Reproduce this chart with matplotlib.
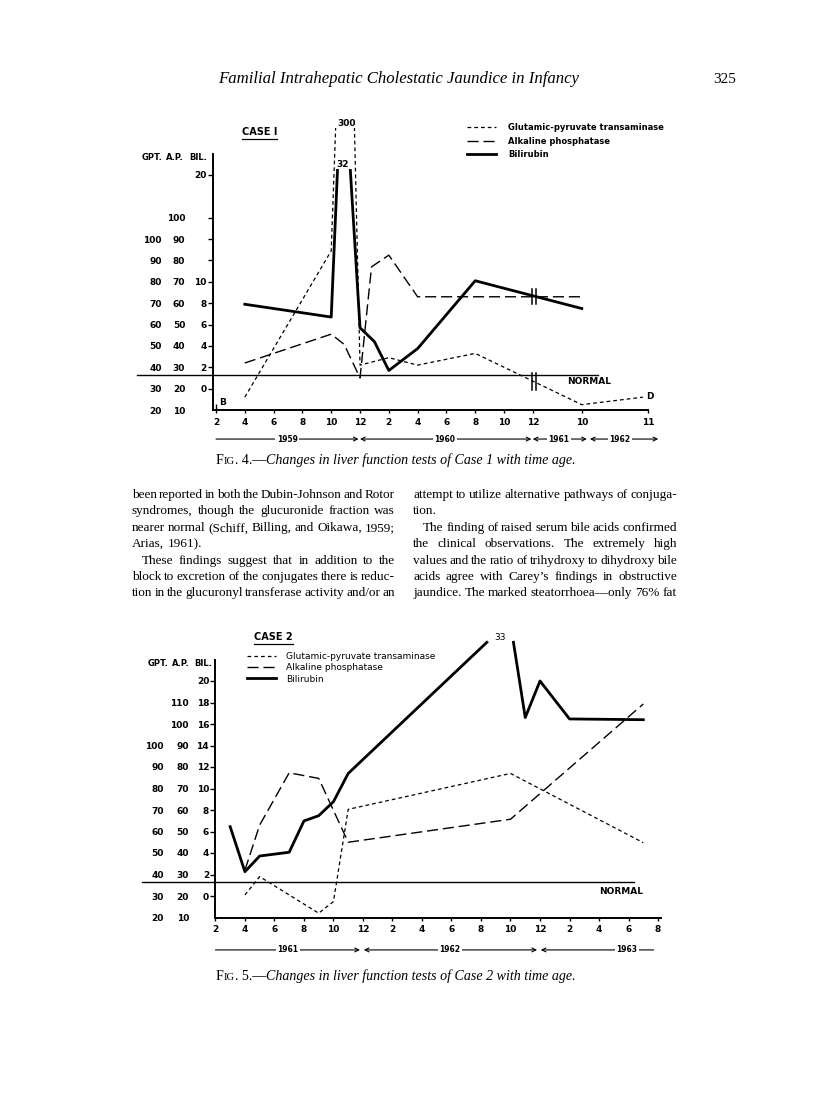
import numpy as np
import matplotlib
matplotlib.use("Agg")
import matplotlib.pyplot as plt
from matplotlib.patches import Rectangle
from matplotlib.transforms import ScaledTranslation, blended_transform_factory

W, H = 816, 1105

# Fig. 4, Case 1 -- months counted from Jan 1959, axis broken after Dec 1960
c1_gpt_month = [4, 10, 11.1, 12, 14, 16, 20, 34, 46]
c1_gpt = [26, 94.5, 300, 41, 44.5, 41, 46.5, 22.5, 26]
c1_ap_month = [4, 10, 10.9, 12, 12.8, 14, 16, 34]
c1_ap = [32, 45.5, 40.7, 25, 77, 82.5, 63, 63]
c1_bil_month = [4, 10, 10.8, 12, 13, 14, 16, 20, 34]
c1_bil = [7.9, 6.7, 32, 5.7, 4.4, 1.7, 3.75, 10.1, 7.5]
c1_ticks = [2, 4, 6, 8, 10, 12, 14, 16, 18, 20, 22, 24, 34, 47]
c1_tick_labels = ["2", "4", "6", "8", "10", "12", "2", "4", "6", "8", "10", "12", "10", "11"]
c1_years = ["1959", "1960", "1961", "1962"]
c1_year_spans = [(2, 11.9), (12.0, 23.9), (24.0, 35.0), (35.6, 49)]
c1_year_label_at = [6.95, 17.9, 29.3, 41.5]
c1_year_arrows = ["->", "<->", "<->", "<->"]
# piecewise time scale for the broken axis
c1_scale_month = [-100, 24, 34, 47, 100]
c1_scale_pos = [-100, 24, 27.4, 32.0, 50.8]

# Fig. 5, Case 2 -- months counted from Jan 1961
c2_gpt_month = [4, 5, 9, 10, 11, 22, 31]
c2_gpt = [30.5, 39, 22, 27.4, 70.3, 87, 54.8]
c2_ap_month = [4, 5, 7, 9, 11, 22, 31]
c2_ap = [32, 53, 77.3, 74.7, 45, 55.7, 109.3]
c2_bil_month = [3, 4, 5, 7, 8, 9, 10, 11, 20.4, np.nan, 22.2, 23, 24, 26, 31]
c2_bil = [6.45, 2.26, 3.72, 4.07, 6.98, 7.47, 8.77, 11.4, 23.6, np.nan, 23.6, 16.6, 20, 16.47, 16.4]
c2_ticks = list(range(2, 33, 2))
c2_tick_labels = ["2", "4", "6", "8", "10", "12", "2", "4", "6", "8", "10", "12", "2", "4", "6", "8"]
c2_years = ["1961", "1962", "1963"]
c2_year_spans = [(2, 11.8), (12.06, 23.8), (24.05, 31.7)]
c2_year_label_at = [6.9, 17.9, 29.9]
c2_year_arrows = ["->", "<->", "<-"]

normal_bil = 1.3
legend_labels = ["Glutamic-pyruvate transaminase", "Alkaline phosphatase", "Bilirubin"]

header = "Familial Intrahepatic Cholestatic Jaundice in Infancy"
page_no = "325"
left_col = [
    ["been reported in both the Dubin-Johnson and Rotor",
     "syndromes, though the glucuronide fraction was",
     "nearer normal (Schiff, Billing, and Oikawa, 1959;",
     "Arias, 1961)."],
    ["These findings suggest that in addition to the",
     "block to excretion of the conjugates there is reduc-",
     "tion in the glucuronyl transferase activity and/or an"],
]
right_col = [
    ["attempt to utilize alternative pathways of conjuga-",
     "tion."],
    ["The finding of raised serum bile acids confirmed",
     "the clinical observations. The extremely high",
     "values and the ratio of trihydroxy to dihydroxy bile",
     "acids agree with Carey\u2019s findings in obstructive",
     "jaundice. The marked steatorrhoea\u2014only 76% fat"],
]

plt.rcParams['font.family'] = ['DejaVu Sans']
plt.rcParams['font.weight'] = 'bold'
fig = plt.figure(figsize=(W / 100, H / 100), dpi=100)
renderer = fig.canvas.get_renderer()
SERIF = dict(family='Liberation Serif', fontweight='normal')


def px_axes(left, right, bottom, top):
    return fig.add_axes([left / W, 1 - bottom / H, (right - left) / W, (bottom - top) / H])


def bil_from_gpt(g): return (np.asarray(g, float) - 30) / 5
def gpt_from_bil(b): return np.asarray(b, float) * 5 + 30
def bil_from_ap(a): return (np.asarray(a, float) - 20) / 5
def ap_from_bil(b): return np.asarray(b, float) * 5 + 20


GPT_KW = dict(color='black', lw=0.9, ls=(0, (3, 2.4)))
AP_KW = dict(color='black', lw=1.0, ls=(0, (8, 3.5)))
BIL_KW = dict(color='black', lw=2.0)


def style_axes(ax, xlim, xticks, xlabels, bil_ticks, bil_labels, ap_ticks, gpt_ticks, ap_pad, gpt_pad, ytop):
    ax.set_xlim(*xlim)
    ax.set_ylim(-2, ytop)
    ax.patch.set_visible(False)
    for s in ('top', 'right'):
        ax.spines[s].set_visible(False)
    for s in ('left', 'bottom'):
        ax.spines[s].set_linewidth(1.4)
    ax.spines['left'].set_bounds(-2, 22)
    ax.set_xticks(xticks, labels=xlabels, fontsize=6.5, fontweight='bold')
    ax.set_yticks(bil_ticks, labels=bil_labels, fontsize=6.5, fontweight='bold')
    ax.tick_params(axis='y', direction='out', length=3.5, width=1, pad=1)
    ax.tick_params(axis='x', direction='out', length=2.5, width=1, pad=3)
    for fwd, inv, ticks, pad in ((ap_from_bil, bil_from_ap, ap_ticks, ap_pad),
                                 (gpt_from_bil, bil_from_gpt, gpt_ticks, gpt_pad)):
        sec = ax.secondary_yaxis('left', functions=(fwd, inv))
        sec.set_yticks(ticks, labels=[str(t) for t in ticks], fontsize=6.5, fontweight='bold')
        sec.tick_params(length=0, pad=pad)
        sec.spines['left'].set_visible(False)


def year_arrows(ax, names, spans, label_at, styles, yfrac):
    tr = blended_transform_factory(ax.transData, ax.transAxes)
    for name, (a, b), mid, st in zip(names, spans, label_at, styles):
        ax.annotate('', xy=(b, yfrac), xytext=(a, yfrac), xycoords=tr, textcoords=tr,
                    arrowprops=dict(arrowstyle=st, lw=0.8, color='black', shrinkA=0, shrinkB=0,
                                    mutation_scale=7), annotation_clip=False)
        ax.text(mid, yfrac, name, transform=tr, ha='center', va='center', fontsize=5.5,
                bbox=dict(facecolor='white', edgecolor='none', pad=1.2))


def px_text(x, y, s, **kw):
    return fig.text(x / W, 1 - y / H, s, **kw)


def underline(t, y):
    bb = t.get_window_extent(renderer)
    fig.add_artist(plt.Line2D([bb.x0 / W, bb.x1 / W], [1 - y / H] * 2, color='black', lw=0.9))


def legend(ax, handles, x, y, size, weight, hlen, tpad, lsp):
    ax.legend(handles, legend_labels, loc='upper left', bbox_to_anchor=(x / W, 1 - y / H),
              bbox_transform=fig.transFigure, frameon=False, borderpad=0, borderaxespad=0,
              handlelength=hlen, handletextpad=tpad, labelspacing=lsp,
              prop=dict(size=size, weight=weight))


# ---------------- Fig. 4 ----------------
fwd1 = lambda m: np.interp(m, c1_scale_month, c1_scale_pos)
inv1 = lambda p: np.interp(p, c1_scale_pos, c1_scale_month)
ax1 = px_axes(213, 648, 410, 128)
ax1.set_xscale('function', functions=(fwd1, inv1))
g1, = ax1.plot(c1_gpt_month, bil_from_gpt(c1_gpt), **GPT_KW)
a1, = ax1.plot(c1_ap_month, bil_from_ap(c1_ap), **AP_KW)
b1, = ax1.plot(c1_bil_month, c1_bil, **BIL_KW)
b1.set_clip_path(Rectangle((0, -2), 1, 22.6, transform=ax1.get_yaxis_transform()))
style_axes(ax1, (1.79, 47), c1_ticks, c1_tick_labels,
           [0, 2, 4, 6, 8, 10, 12, 14, 16, 20], ["0", "2", "4", "6", "8", "10", "", "", "", "20"],
           list(range(10, 101, 10)), list(range(20, 101, 10)), 20, 36.7, 24.4)
ax1.plot([-0.175, 0.885], [normal_bil] * 2, transform=ax1.get_yaxis_transform(),
         color='black', lw=1.0, clip_on=False)
ax1.text(0.814, 0.65, "NORMAL", transform=ax1.get_yaxis_transform(), fontsize=6.5, va='center')
# break marks on the time axis
for dx in (-1, 3):
    off = ax1.transData + ScaledTranslation(dx / 100, 0, fig.dpi_scale_trans)
    for lo, hi in ((7.9, 9.3), (-0.1, 1.5)):
        ax1.plot([24, 24], [lo, hi], transform=off, color='black', lw=1.1, clip_on=False)
i_gpt = int(np.argmax(c1_gpt))
i_bil = int(np.argmax(c1_bil))
ax1.text(c1_gpt_month[i_gpt], 24.4, str(c1_gpt[i_gpt]), ha='center', va='bottom', fontsize=6.5, clip_on=False)
ax1.text(c1_bil_month[i_bil], 20.6, str(c1_bil[i_bil]), ha='center', va='bottom', fontsize=6.5)
ax1.vlines(c1_ticks[0], -2, -1.4, color='black', lw=1.0)
ax1.annotate("B", xy=(c1_ticks[0], -2), xytext=(2, 2), textcoords='offset points',
             ha='left', va='bottom', fontsize=6.5)
ax1.annotate("D", xy=(c1_gpt_month[-1], bil_from_gpt(c1_gpt[-1])), xytext=(2, 0.5),
             textcoords='offset points', ha='left', va='center', fontsize=6.5)
year_arrows(ax1, c1_years, c1_year_spans, c1_year_label_at, c1_year_arrows, -0.103)
legend(ax1, [g1, a1, b1], 467, 123, 6, 'bold', 3.5, 1.45, 0.55)
t = px_text(242, 135, "CASE I", fontsize=7, va='baseline')
underline(t, 138.5)
for s, x in (("GPT.", 162), ("A.P.", 184), ("BIL.", 207)):
    px_text(x, 160, s, fontsize=6, ha='right', va='baseline')

# ---------------- Fig. 5 ----------------
ax2 = px_axes(215.4, 661, 917.5, 638)
g2, = ax2.plot(c2_gpt_month, bil_from_gpt(c2_gpt), **GPT_KW)
a2, = ax2.plot(c2_ap_month, bil_from_ap(c2_ap), **AP_KW)
b2, = ax2.plot(c2_bil_month, c2_bil, **BIL_KW)
style_axes(ax2, (2, 32.2), c2_ticks, c2_tick_labels,
           list(range(0, 21, 2)), [str(v) for v in range(0, 21, 2)],
           list(range(10, 111, 10)), list(range(20, 101, 10)), 19, 37, 24)
ax2.plot([-0.165, 0.94], [normal_bil] * 2, transform=ax2.get_yaxis_transform(),
         color='black', lw=1.0, clip_on=False)
ax2.text(0.861, 0.4, "NORMAL", transform=ax2.get_yaxis_transform(), fontsize=6.5, va='center')
gap = int(np.where(np.isnan(c2_bil_month))[0][0])
peak2 = 33
ax2.text((c2_bil_month[gap - 1] + c2_bil_month[gap + 1]) / 2, c2_bil[gap - 1] + 0.4, str(peak2),
         ha='center', va='center', fontsize=6.5, fontweight='normal')
year_arrows(ax2, c2_years, c2_year_spans, c2_year_label_at, c2_year_arrows, -0.116)
legend(ax2, [g2, a2, b2], 247, 652, 6.5, 'normal', 3.2, 1.1, 0.25)
t = px_text(254, 640, "CASE 2", fontsize=7, va='baseline')
underline(t, 643.5)
for s, x in (("GPT.", 168), ("A.P.", 190), ("BIL.", 212)):
    px_text(x, 666, s, fontsize=6, ha='right', va='baseline')


# ---------------- page text ----------------
def width_of(s, size, **kw):
    tt = fig.text(0, 0, s, fontsize=size, **kw)
    w = tt.get_window_extent(renderer).width
    tt.remove()
    return w


def runs(x, y, pieces, target):
    base = sum(width_of(s, sz, **kw) for s, sz, kw in pieces)
    k = target / base
    for s, sz, kw in pieces:
        tt = px_text(x, y, s, fontsize=sz * k, va='baseline', **kw)
        x += tt.get_window_extent(renderer).width


ITAL = dict(SERIF, style='italic')
runs(218, 83, [(header, 10, ITAL)], 362)
px_text(736, 83, page_no, fontsize=11, ha='right', va='baseline', **SERIF)
for num, case, y in (("4", "1", 464), ("5", "2", 980)):
    runs(216, y, [("F", 10, SERIF), ("IG", 7.6, SERIF), (". " + num + ".\u2014", 10, SERIF),
                  ("Changes in liver function tests of Case " + case + " with time age.", 10, ITAL)], 359)


def column(paras, x0, x1, y0, size, step, indent=10):
    y = y0
    for pi, para in enumerate(paras):
        for li, line in enumerate(para):
            words = line.split()
            start = x0 + (indent if (pi > 0 and li == 0) else 0)
            objs = [px_text(0, y, w, fontsize=size, va='baseline', **SERIF) for w in words]
            ws = [o.get_window_extent(renderer).width for o in objs]
            last = (li == len(para) - 1) and (pi < len(paras) - 1)
            if last or len(words) == 1:
                g = size * 100 / 72 * 0.25
            else:
                g = max((x1 - start - sum(ws)) / (len(words) - 1), 1.2)
            x = start
            for o, w in zip(objs, ws):
                o.set_position((x / W, 1 - y / H))
                x += w + g
            y += step


lines = [l for p in left_col + right_col for l in p]
fit = min(262 / width_of(l, 10, **SERIF) for l in lines if len(l) > 20)
body_size = min(10 * fit * 1.04, 10)
column(left_col, 132, 395, 498, body_size, 16.4)
column(right_col, 413, 677, 498, body_size, 16.4)

fig.savefig("out.png", dpi=100, facecolor='white')
